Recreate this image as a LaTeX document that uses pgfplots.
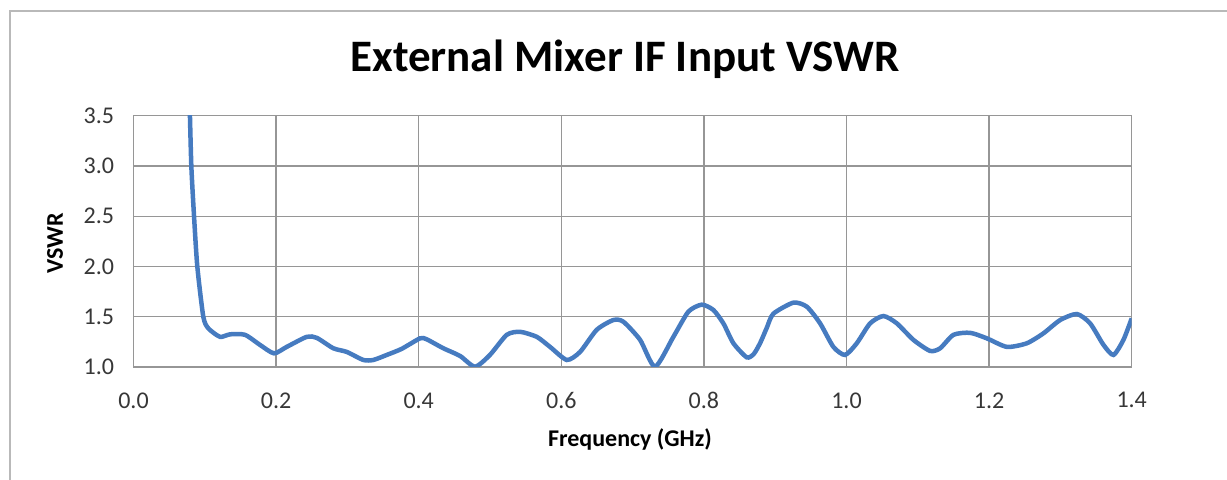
\documentclass[border=0pt]{standalone}
\usepackage{pgfplots}
\pgfplotsset{compat=1.18}
\usepackage{fontspec}
\setmainfont{Carlito}
\definecolor{vsblue}{RGB}{70,123,192}
\definecolor{gridgray}{RGB}{150,150,150}
\definecolor{ticktext}{RGB}{55,55,55}
\begin{document}
\begin{tikzpicture}[x=1bp,y=1bp]
\path[use as bounding box] (0,0) rectangle (1227,480);
\draw[gray!55, line width=1.5bp] (10,0) -- (10,469) -- (1227,469);
\node[anchor=base, font=\fontsize{45bp}{50bp}\selectfont\bfseries] at (625,408) {External Mixer IF Input VSWR};
\node[rotate=90, anchor=center, font=\fontsize{24bp}{28bp}\selectfont\bfseries] at (55,237) {VSWR};
\node[anchor=base, font=\fontsize{24bp}{28bp}\selectfont\bfseries] at (630,33) {Frequency (GHz)};
\begin{axis}[
  at={(133.5bp,113bp)}, anchor=south west,
  width=998.2bp, height=251.3bp, scale only axis,
  xmin=0, xmax=1.4, ymin=1, ymax=3.5,
  xtick={0,0.2,0.4,0.6,0.8,1.0,1.2,1.4},
  ytick={1,1.5,2,2.5,3,3.5},
  grid=major,
  major grid style={gridgray, line width=1.4bp},
  axis line style={gridgray, line width=1.4bp},
  tick style={draw=none},
  /pgf/number format/assume math mode=true,
  /pgf/number format/fixed,
  /pgf/number format/fixed zerofill,
  /pgf/number format/precision=1,
  x tick label style={font=\fontsize{24bp}{28bp}\selectfont, text=ticktext, yshift=-22bp},
  y tick label style={font=\fontsize{24bp}{28bp}\selectfont, text=ticktext, xshift=-16bp},
]
\addplot[vsblue, line width=4.5bp, smooth, tension=0.4] coordinates {
(0.0790,3.55) (0.0811,3.0) (0.0849,2.5) (0.0895,2.0) (0.0979,1.5) (0.1049,1.385)
(0.1213,1.30) (0.1354,1.325) (0.1564,1.32) (0.1774,1.22) (0.1970,1.136)
(0.2149,1.20) (0.2430,1.30) (0.2570,1.29) (0.2803,1.186) (0.2991,1.15)
(0.3223,1.07) (0.3364,1.07) (0.3552,1.12) (0.3760,1.18) (0.4019,1.285)
(0.4113,1.275) (0.4346,1.186) (0.4580,1.11) (0.4790,1.003) (0.4999,1.12)
(0.5235,1.32) (0.5422,1.35) (0.5656,1.30) (0.5842,1.20) (0.6077,1.07)
(0.6263,1.15) (0.6497,1.37) (0.6730,1.467) (0.6871,1.45) (0.7105,1.27)
(0.7315,1.003) (0.7572,1.30) (0.7782,1.55) (0.7970,1.62) (0.8133,1.567)
(0.8273,1.434) (0.8414,1.236) (0.8601,1.096) (0.8700,1.13) (0.8790,1.24)
(0.8882,1.39) (0.8974,1.53) (0.9255,1.64) (0.9443,1.60) (0.9630,1.434)
(0.9816,1.20) (0.9980,1.12) (1.0144,1.236) (1.0331,1.434) (1.0518,1.507)
(1.0706,1.434) (1.0938,1.27) (1.1172,1.16) (1.1313,1.186) (1.1500,1.32)
(1.1734,1.34) (1.1968,1.285) (1.2249,1.20) (1.2529,1.236) (1.2762,1.335)
(1.2996,1.467) (1.3231,1.527) (1.3417,1.434) (1.3604,1.22) (1.3744,1.12)
(1.3884,1.27) (1.4000,1.484)
};
\end{axis}
\end{tikzpicture}
\end{document}
